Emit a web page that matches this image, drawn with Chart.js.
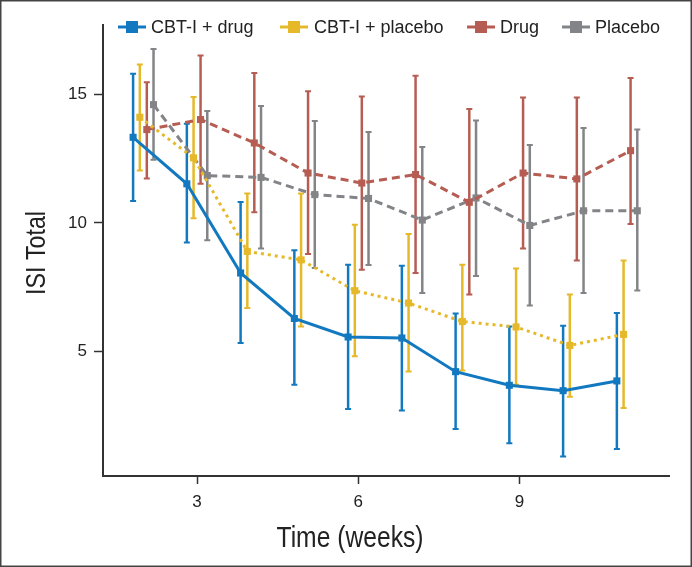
<!DOCTYPE html>
<html>
<head>
<meta charset="utf-8">
<script src="https://cdn.jsdelivr.net/npm/chart.js@4/dist/chart.umd.min.js"></script>
<style>
  html, body { margin: 0; padding: 0; background: #fff; }
  #wrap { width: 692px; height: 567px; position: relative; }
</style>
</head>
<body>
<div id="wrap"><canvas id="isiChart"></canvas></div>
<script>
// values (ISI total, mean with error bar ends)
var weeks = [2, 3, 4, 5, 6, 7, 8, 9, 10, 11];
var xTicks = [3, 6, 9];
var yTicks = [5, 10, 15];

var cbtDrug      = [13.33, 11.52, 8.05, 6.28, 5.56, 5.52, 4.21, 3.68, 3.47, 3.85];
var cbtDrugLo    = [10.85, 9.24, 5.33, 3.70, 2.76, 2.70, 1.98, 1.42, 0.91, 1.20];
var cbtDrugHi    = [15.80, 13.86, 10.81, 8.93, 8.37, 8.33, 6.47, 5.97, 6.00, 6.49];

var cbtPlacebo   = [14.11, 12.53, 8.89, 8.56, 7.36, 6.88, 6.16, 5.95, 5.23, 5.66];
var cbtPlaceboLo = [12.04, 10.18, 6.69, 5.97, 4.81, 4.22, 4.26, 3.70, 3.23, 2.80];
var cbtPlaceboHi = [16.16, 14.90, 11.14, 11.14, 9.93, 9.57, 8.37, 8.22, 7.21, 8.54];

var drug         = [13.63, 14.02, 13.11, 11.94, 11.55, 11.88, 10.80, 11.94, 11.71, 12.81];
var drugLo       = [11.73, 11.52, 10.41, 8.79, 8.18, 8.05, 7.21, 9.00, 8.54, 9.96];
var drugHi       = [15.47, 16.51, 15.83, 15.12, 14.92, 15.73, 14.43, 14.88, 14.88, 15.64];

var placebo      = [14.60, 11.84, 11.77, 11.10, 10.95, 10.11, 10.97, 9.90, 10.47, 10.47];
var placeboLo    = [12.46, 9.32, 9.00, 8.24, 8.36, 7.27, 7.93, 6.78, 7.27, 7.37];
var placeboHi    = [16.77, 14.35, 14.55, 13.96, 13.54, 12.95, 13.98, 13.03, 13.69, 13.63];

var series = [
  { label: 'CBT-I + drug',    mean: cbtDrug,    lo: cbtDrugLo,    hi: cbtDrugHi,    color: '#1279c0', dash: [],     shift: -0.19 },
  { label: 'CBT-I + placebo', mean: cbtPlacebo, lo: cbtPlaceboLo, hi: cbtPlaceboHi, color: '#e6b92a', dash: [3, 4], shift: -0.065 },
  { label: 'Drug',            mean: drug,       lo: drugLo,       hi: drugHi,       color: '#b65d53', dash: [8, 5], shift: 0.065 },
  { label: 'Placebo',         mean: placebo,    lo: placeboLo,    hi: placeboHi,    color: '#838487', dash: [8, 5], shift: 0.19 }
];

var sans = "'Liberation Sans', Arial, sans-serif";
var axisColor = '#333';

var datasets = series.map(function(s) {
  return {
    label: s.label,
    data: weeks.map(function(w, i) { return { x: w + s.shift, y: s.mean[i], lo: s.lo[i], hi: s.hi[i] }; }),
    showLine: true,
    borderColor: s.color,
    backgroundColor: s.color,
    borderWidth: 3,
    borderDash: s.dash,
    pointStyle: 'rect',
    pointRadius: 5,
    pointBorderWidth: 0,
    tension: 0
  };
});

// vertical error bars, drawn through the scales
var errorBars = {
  id: 'errorBars',
  beforeDatasetsDraw: function(chart) {
    var ctx = chart.ctx, xs = chart.scales.x, ys = chart.scales.y;
    ctx.save();
    chart.data.datasets.forEach(function(ds) {
      ctx.strokeStyle = ds.borderColor;
      ctx.setLineDash([]);
      ds.data.forEach(function(p) {
        var x = xs.getPixelForValue(p.x);
        var y1 = ys.getPixelForValue(p.hi), y2 = ys.getPixelForValue(p.lo);
        ctx.lineWidth = 2.5;
        ctx.beginPath(); ctx.moveTo(x, y1); ctx.lineTo(x, y2); ctx.stroke();
        ctx.lineWidth = 2;
        ctx.beginPath();
        ctx.moveTo(x - 3, y1); ctx.lineTo(x + 3, y1);
        ctx.moveTo(x - 3, y2); ctx.lineTo(x + 3, y2);
        ctx.stroke();
      });
    });
    ctx.restore();
  }
};

// legend inside the plot, condensed axis titles and outer frame
var decorations = {
  id: 'decorations',
  afterDraw: function(chart) {
    var ctx = chart.ctx;
    ctx.save();
    var markX = [118, 280, 467, 562];
    var textX = [151, 314, 500, 595];
    ctx.font = '18px ' + sans;
    ctx.textBaseline = 'middle';
    series.forEach(function(s, i) {
      var x0 = markX[i], y = 27;
      ctx.strokeStyle = s.color; ctx.fillStyle = s.color;
      ctx.lineWidth = 3;
      ctx.beginPath(); ctx.moveTo(x0, y); ctx.lineTo(x0 + 28, y); ctx.stroke();
      ctx.fillRect(x0 + 14 - 6, y - 6, 12, 12);
      ctx.fillStyle = '#222';
      ctx.textAlign = 'left';
      ctx.fillText(s.label, textX[i], y + 1);
    });

    ctx.fillStyle = '#222';
    ctx.textAlign = 'center';
    ctx.textBaseline = 'middle';
    ctx.save();
    ctx.font = '29px ' + sans;
    ctx.translate(350, 539);
    ctx.scale(0.85, 1);
    ctx.fillText('Time (weeks)', 0, 0);
    ctx.restore();

    ctx.save();
    ctx.font = '28px ' + sans;
    ctx.translate(37, 253);
    ctx.rotate(-Math.PI / 2);
    ctx.scale(0.83, 1);
    ctx.fillText('ISI Total', 0, 0);
    ctx.restore();
    ctx.restore();

    ctx.save();
    ctx.strokeStyle = '#444';
    ctx.lineWidth = 1.5;
    ctx.strokeRect(0.75, 0.75, 690.5, 565.5);
    ctx.restore();
  }
};

new Chart(document.getElementById('isiChart').getContext('2d'), {
  type: 'scatter',
  data: { datasets: datasets },
  options: {
    responsive: true,
    maintainAspectRatio: false,
    animation: false,
    layout: { padding: { top: 25, right: 23, left: 0, bottom: 0 } },
    plugins: { legend: { display: false }, tooltip: { enabled: false } },
    scales: {
      x: {
        type: 'linear', min: 1.25, max: 11.78,
        afterBuildTicks: function(scale) { scale.ticks = xTicks.map(function(v) { return { value: v }; }); },
        afterFit: function(scale) { scale.height = 91; },
        border: { display: true, color: axisColor, width: 2 },
        grid: { drawOnChartArea: false, drawTicks: true, tickLength: 8, color: axisColor, tickWidth: 1.5 },
        ticks: { color: '#222', padding: 8, font: { family: sans, size: 17 } }
      },
      y: {
        type: 'linear', min: 0.15, max: 17.7,
        afterBuildTicks: function(scale) { scale.ticks = yTicks.map(function(v) { return { value: v }; }); },
        afterFit: function(scale) { scale.width = 103; },
        border: { display: true, color: axisColor, width: 2 },
        grid: { drawOnChartArea: false, drawTicks: true, tickLength: 9, color: axisColor, tickWidth: 1.5 },
        ticks: { color: '#222', padding: 7, font: { family: sans, size: 17 } }
      }
    }
  },
  plugins: [errorBars, decorations]
});
</script>
</body>
</html>
